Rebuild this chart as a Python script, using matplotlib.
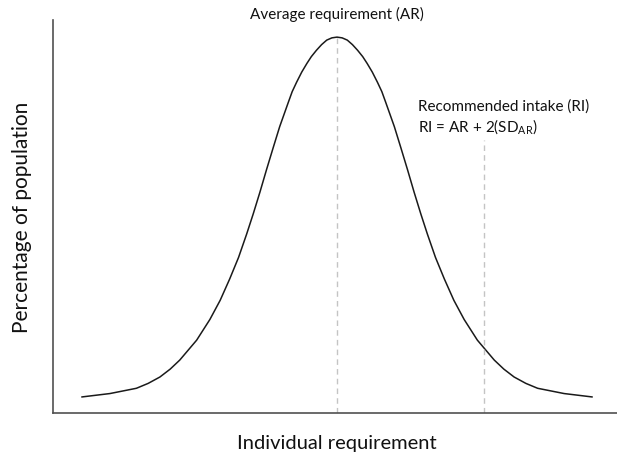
import matplotlib
matplotlib.use("Agg")
import matplotlib.pyplot as plt

# requirement in SD units (AR = 0, RI = AR + 2 SD), height relative to peak
req = [-3.47, -3.09, -2.73, -2.57, -2.41, -2.27, -2.14, -1.91, -1.73, -1.59,
       -1.46, -1.34, -1.23, -1.14, -1.05, -0.96, -0.87, -0.78, -0.72, -0.66,
       -0.61, -0.55, -0.48, -0.41, -0.35, -0.28, -0.21, -0.14, -0.07, 0.0,
       0.07, 0.14, 0.21, 0.28, 0.35, 0.41, 0.48, 0.55, 0.61, 0.66,
       0.72, 0.78, 0.87, 0.96, 1.05, 1.14, 1.23, 1.34, 1.46, 1.59,
       1.73, 1.91, 2.14, 2.27, 2.41, 2.57, 2.73, 3.09, 3.47]
pop = [0.043, 0.052, 0.066, 0.079, 0.096, 0.117, 0.141, 0.194, 0.249, 0.300,
       0.357, 0.414, 0.476, 0.530, 0.587, 0.647, 0.705, 0.762, 0.795, 0.828,
       0.855, 0.880, 0.907, 0.930, 0.948, 0.965, 0.980, 0.992, 0.998, 1.0,
       0.998, 0.992, 0.980, 0.965, 0.948, 0.930, 0.907, 0.880, 0.855, 0.828,
       0.795, 0.762, 0.705, 0.647, 0.587, 0.530, 0.476, 0.414, 0.357, 0.300,
       0.249, 0.194, 0.141, 0.117, 0.096, 0.079, 0.066, 0.052, 0.043]

ar_x, ar_top = 0.0, 1.0
ri_x, ri_top = 2.0, 0.726

plt.rcParams["font.family"] = ["Lato", "DejaVu Sans"]
plt.rcParams["mathtext.fontset"] = "custom"
plt.rcParams["mathtext.rm"] = "Lato"

fig = plt.figure(figsize=(6.17, 4.59), dpi=100)
ax = fig.add_axes([0.086, 0.100, 0.914, 0.856])

ax.plot(req, pop, color="#1a1a1a", lw=1.1, solid_joinstyle="round")
ax.plot([ar_x, ar_x], [0, ar_top], color="#c4c4c4", lw=1.0, ls=(0, (4, 3)))
ax.plot([ri_x, ri_x], [0, ri_top], color="#c4c4c4", lw=1.0, ls=(0, (4, 3)))

ax.set_xlim(-3.864, 3.81)
ax.set_ylim(0, 1.045)
ax.set_xticks([])
ax.set_yticks([])
for side in ["top", "right"]:
    ax.spines[side].set_visible(False)
for side in ["left", "bottom"]:
    ax.spines[side].set_color("#505050")
    ax.spines[side].set_linewidth(1.2)

ax.text(ar_x, 1.06, "Average requirement (AR)", ha="center", va="center",
        fontsize=11, color="#111111")
ax.text(1.1, 0.815, "Recommended intake (RI)", ha="left", va="center",
        fontsize=11, color="#111111")
ax.text(1.1, 0.76, r"RI = AR + 2(SD$_{\mathrm{AR}}$)", ha="left", va="center",
        fontsize=11, color="#111111")

fig.text(337 / 617, 1 - 443 / 459, "Individual requirement", ha="center",
         va="center", fontsize=14.5, color="#111111")
fig.text(22 / 617, 1 - 217 / 459, "Percentage of population", ha="center",
         va="center", rotation=90, fontsize=15, color="#111111")

fig.savefig("out.png", dpi=100)
